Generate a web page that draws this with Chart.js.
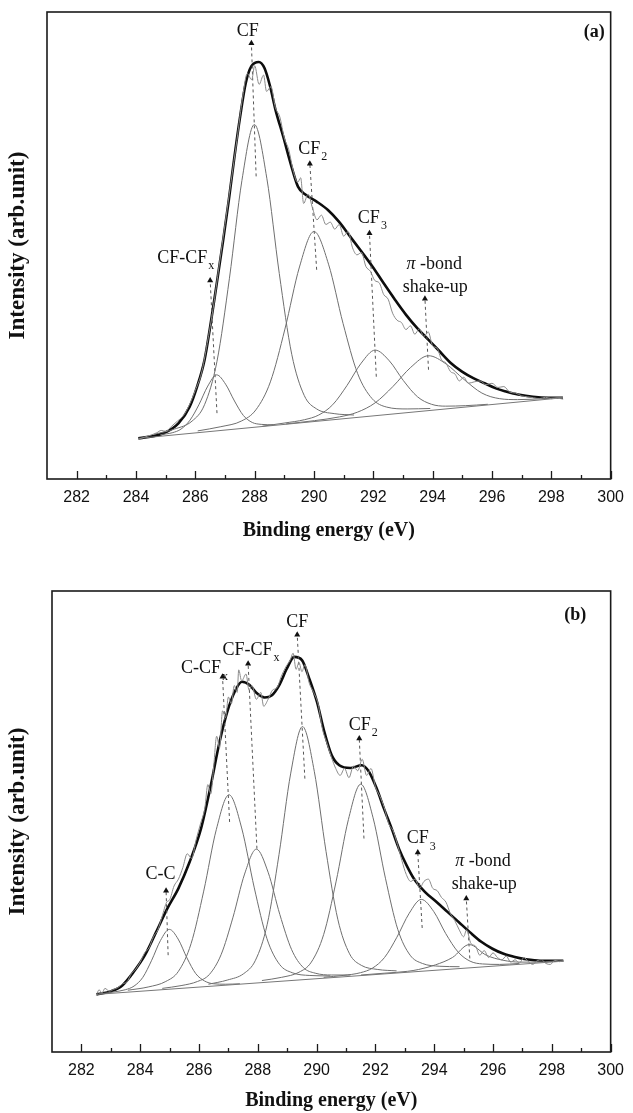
<!DOCTYPE html>
<html>
<head>
<meta charset="utf-8">
<script src="https://cdn.jsdelivr.net/npm/chart.js@4.4.1/dist/chart.umd.min.js"></script>
<style>
  body { margin: 0; background: #fff; }
  #wrap { position: relative; width: 633px; height: 1113px; }
  canvas { position: absolute; left: 0; }
</style>
</head>
<body>
<div id="wrap">
  <canvas id="panel-a" width="633" height="556" style="top:0"></canvas>
  <canvas id="panel-b" width="633" height="557" style="top:556px"></canvas>
</div>
<script>
// x axis ticks (eV)
const energyTicks = [282, 284, 286, 288, 290, 292, 294, 296, 298, 300];
const minorTicks = [283, 285, 287, 289, 291, 293, 295, 297, 299];

// ---- panel (a): [binding energy, intensity] ----
const rawA = [[284.08, 8.5], [284.3, 9.0], [284.5, 9.4], [284.7, 9.9], [284.85, 10.4], [285.0, 10.2], [285.2, 11.3],
  [285.4, 12.4], [285.6, 13.6], [285.8, 15.9], [286.0, 19.0], [286.2, 22.5], [286.4, 29.0], [286.6, 36.5],
  [286.8, 45.6], [287.0, 54.5], [287.2, 63.5], [287.4, 72.5], [287.6, 82.0], [287.75, 86.8], [287.9, 85.5],
  [288.0, 88.5], [288.15, 84.5], [288.3, 86.5], [288.4, 83.0], [288.55, 84.0], [288.7, 79.5], [288.85, 77.5],
  [289.0, 73.0], [289.15, 70.5], [289.3, 66.0], [289.45, 63.5], [289.55, 64.5], [289.65, 59.0], [289.8, 61.0],
  [289.95, 58.0], [290.1, 55.5], [290.25, 56.5], [290.4, 54.5], [290.55, 55.0], [290.7, 53.5], [290.85, 54.5],
  [291.0, 52.0], [291.15, 53.0], [291.3, 49.5], [291.45, 48.0], [291.6, 48.5], [291.75, 45.5], [291.9, 44.5],
  [292.05, 42.5], [292.2, 42.0], [292.35, 39.5], [292.5, 38.5], [292.65, 35.5], [292.8, 34.0], [292.95, 33.5],
  [293.1, 32.0], [293.25, 32.8], [293.4, 31.0], [293.55, 32.2], [293.7, 30.5], [293.85, 31.5], [294.0, 28.5],
  [294.15, 28.0], [294.3, 25.5], [294.45, 24.8], [294.6, 23.0], [294.75, 22.5], [294.9, 21.0], [295.05, 21.8],
  [295.2, 20.5], [295.4, 20.8], [295.6, 21.0], [295.8, 20.2], [296.0, 20.5], [296.2, 19.6], [296.4, 19.8],
  [296.6, 18.6], [296.8, 18.4], [297.0, 17.8], [297.2, 17.6], [297.4, 17.4], [297.6, 17.2], [297.8, 17.5],
  [298.0, 17.2], [298.2, 17.3], [298.4, 17.1]];
const envA = [[284.08, 8.7], [284.93, 9.8], [285.43, 11.9], [285.81, 15.5], [286.06, 19.8], [286.31, 25.5],
  [286.5, 32.6], [286.69, 40.5], [286.94, 51.2], [287.13, 59.8], [287.32, 69.1], [287.51, 77.6], [287.7, 84.8],
  [287.89, 88.4], [288.14, 89.3], [288.33, 88.0], [288.52, 84.1], [288.7, 79.1], [288.96, 73.4], [289.21, 67.6],
  [289.46, 62.6], [289.71, 60.9], [290.09, 59.4], [290.47, 57.6], [290.84, 55.1], [291.22, 51.9], [291.6, 48.7],
  [291.97, 45.5], [292.35, 41.9], [292.73, 38.4], [293.11, 35.1], [293.48, 32.3], [293.86, 29.8], [294.24, 27.3],
  [294.62, 24.8], [294.99, 23.0], [295.37, 21.6], [295.75, 20.5], [296.13, 19.4], [296.5, 18.7], [296.88, 18.1],
  [297.38, 17.6], [297.89, 17.4], [298.39, 17.4]];
const baseA = [[284.08, 8.7], [298.39, 17.4]];
const cfcfxA = [[284.82, 9.5], [285.22, 9.9], [285.52, 10.7], [285.82, 12.6], [286.12, 15.9], [286.42, 19.9],
  [286.72, 22.3], [287.02, 20.3], [287.32, 16.7], [287.62, 13.6], [287.92, 12.1], [288.22, 11.7], [288.62, 11.6]];
const cfA = [[284.63, 9.6], [285.3, 10.7], [285.89, 12.4], [286.31, 15.9], [286.73, 25.2], [287.15, 43.0],
  [287.57, 63.9], [287.99, 75.9], [288.41, 64.4], [288.83, 44.0], [289.25, 26.7], [289.67, 17.9], [290.09, 15.0],
  [290.68, 14.0], [291.35, 13.7]];
const cf2A = [[286.08, 10.3], [286.86, 11.2], [287.55, 12.4], [288.04, 14.8], [288.53, 20.8], [289.02, 32.1],
  [289.51, 45.4], [290.0, 53.0], [290.49, 46.0], [290.98, 33.3], [291.47, 22.6], [291.96, 17.2], [292.45, 15.4],
  [293.14, 15.0], [293.92, 15.1]];
const cf3A = [[288.26, 11.3], [289.02, 12.0], [289.68, 12.7], [290.16, 13.7], [290.63, 15.9], [291.11, 20.0],
  [291.59, 24.8], [292.06, 27.6], [292.54, 25.3], [293.01, 21.1], [293.49, 17.6], [293.96, 16.0], [294.44, 15.6],
  [295.1, 15.7], [295.86, 16.0]];
const piA = [[289.06, 11.8], [290.02, 12.5], [290.86, 13.3], [291.46, 14.3], [292.06, 16.3], [292.66, 19.8],
  [293.26, 23.9], [293.86, 26.4], [294.46, 24.6], [295.06, 21.3], [295.66, 18.4], [296.26, 17.2], [296.86, 17.0],
  [297.7, 17.2], [298.39, 17.5]];
const guidesA = [
  [[286.73, 14.1], [286.50, 42.5]],
  [[288.05, 64.8], [287.89, 93.3]],
  [[290.09, 44.8], [289.86, 67.5]],
  [[292.10, 21.9], [291.87, 52.6]],
  [[293.86, 23.4], [293.74, 38.6]]
];
const labelsA = [
  { text: "CF-CF", sub: "x", at: [285.56, 47.3] },
  { text: "CF", at: [287.77, 95.9] },
  { text: "CF", sub: "2", at: [289.84, 70.7] },
  { text: "CF", sub: "3", at: [291.85, 55.9] },
  { text: " -bond", greek: "\u03c0", at: [294.05, 45.9] },
  { text: "shake-up", at: [294.09, 41.1] },
  { text: "(a)", bold: true, at: [299.45, 95.7] }
];

// ---- panel (b) ----
const rawB = [[282.51, 12.3], [282.6, 13.5], [282.7, 12.8], [282.8, 13.8], [282.95, 13.2], [283.1, 13.6],
  [283.25, 14.0], [283.4, 14.8], [283.55, 15.2], [283.7, 17.0], [283.85, 18.0], [284.0, 19.5], [284.15, 21.5],
  [284.3, 22.6], [284.45, 25.0], [284.6, 26.5], [284.75, 29.5], [284.9, 32.5], [285.0, 33.0], [285.15, 36.0],
  [285.3, 37.5], [285.45, 40.0], [285.6, 43.0], [285.75, 42.0], [285.9, 46.0], [286.05, 49.5], [286.2, 53.0],
  [286.3, 58.0], [286.4, 56.0], [286.5, 62.0], [286.6, 68.5], [286.7, 66.0], [286.8, 74.0], [286.9, 72.5],
  [287.0, 77.0], [287.1, 75.5], [287.2, 79.5], [287.3, 78.0], [287.35, 82.9], [287.45, 80.5], [287.6, 82.0],
  [287.7, 78.5], [287.8, 79.5], [287.95, 76.5], [288.1, 78.0], [288.2, 75.0], [288.35, 76.5], [288.5, 78.5],
  [288.65, 79.0], [288.8, 81.5], [288.95, 83.5], [289.1, 85.0], [289.2, 86.5], [289.3, 83.0], [289.4, 84.5],
  [289.5, 82.5], [289.6, 84.0], [289.75, 80.0], [289.9, 78.0], [290.05, 75.5], [290.2, 70.0], [290.35, 67.0],
  [290.5, 64.0], [290.65, 61.5], [290.8, 60.0], [290.95, 61.5], [291.1, 59.5], [291.25, 62.0], [291.4, 61.0],
  [291.55, 63.5], [291.7, 60.0], [291.85, 61.5], [292.0, 57.5], [292.15, 55.5], [292.3, 53.0], [292.45, 49.5],
  [292.6, 48.0], [292.75, 45.0], [292.9, 41.5], [293.05, 38.5], [293.2, 37.0], [293.35, 37.5], [293.5, 35.5],
  [293.65, 37.0], [293.8, 37.5], [293.95, 35.5], [294.1, 35.0], [294.25, 33.5], [294.4, 32.5], [294.55, 30.0],
  [294.7, 28.5], [294.85, 26.5], [295.0, 25.0], [295.1, 26.5], [295.25, 23.5], [295.4, 23.0], [295.55, 21.0],
  [295.7, 22.0], [295.85, 20.5], [296.0, 21.5], [296.15, 20.5], [296.3, 20.0], [296.45, 20.8], [296.6, 19.5],
  [296.75, 20.0], [296.9, 19.3], [297.05, 20.5], [297.2, 19.6], [297.35, 19.0], [297.5, 19.8], [297.65, 20.0],
  [297.8, 19.2], [297.95, 19.0], [298.1, 19.9], [298.25, 19.6], [298.39, 19.7]];
const envB = [[282.51, 12.5], [283.02, 13.2], [283.4, 14.5], [283.78, 17.4], [284.16, 21.0], [284.54, 26.0],
  [284.92, 31.1], [285.3, 35.5], [285.68, 41.2], [286.07, 48.5], [286.38, 57.2], [286.7, 67.3], [286.96, 73.8],
  [287.21, 78.1], [287.46, 80.3], [287.72, 79.6], [287.97, 77.8], [288.23, 76.9], [288.48, 77.4], [288.73, 79.6],
  [288.99, 83.2], [289.24, 85.7], [289.5, 85.0], [289.75, 81.0], [290.01, 76.0], [290.26, 69.5], [290.51, 64.4],
  [290.77, 62.2], [291.15, 61.6], [291.53, 62.2], [291.78, 60.8], [292.04, 57.2], [292.29, 52.8], [292.55, 48.5],
  [292.8, 44.1], [293.06, 40.5], [293.31, 37.6], [293.69, 34.7], [294.07, 32.6], [294.45, 30.4], [294.83, 28.2],
  [295.21, 26.0], [295.6, 23.9], [295.98, 22.4], [296.36, 21.3], [296.74, 20.6], [297.12, 20.1], [297.63, 19.8],
  [298.39, 19.8]];
const baseB = [[282.51, 12.5], [298.39, 19.7]];
const ccB = [[282.59, 12.6], [283.07, 13.0], [283.49, 13.5], [283.79, 14.3], [284.09, 16.2], [284.39, 19.9],
  [284.69, 24.2], [284.99, 26.6], [285.29, 24.5], [285.59, 20.4], [285.89, 17.0], [286.19, 15.4], [286.49, 14.8],
  [286.91, 14.7], [287.39, 14.8]];
const ccfB = [[283.58, 13.4], [284.27, 14.1], [284.87, 15.3], [285.3, 17.5], [285.73, 23.5], [286.16, 34.9],
  [286.59, 48.3], [287.02, 55.8], [287.45, 48.6], [287.88, 35.6], [288.31, 24.6], [288.74, 19.0], [289.17, 17.2],
  [289.77, 16.6], [290.46, 16.5]];
const cfcfxB = [[284.75, 13.8], [285.39, 14.4], [285.95, 15.3], [286.35, 16.8], [286.75, 21.1], [287.15, 29.1],
  [287.55, 38.6], [287.95, 44.0], [288.35, 39.0], [288.75, 29.8], [289.15, 22.2], [289.55, 18.3], [289.95, 17.1],
  [290.51, 16.7], [291.15, 16.7]];
const cfB = [[286.32, 14.7], [286.96, 15.6], [287.52, 17.0], [287.92, 19.9], [288.32, 27.7], [288.72, 42.8],
  [289.12, 60.5], [289.52, 70.6], [289.92, 60.9], [290.32, 43.5], [290.72, 28.8], [291.12, 21.3], [291.52, 18.8],
  [292.08, 17.9], [292.72, 17.6]];
const cf2B = [[288.14, 15.5], [288.81, 16.2], [289.4, 17.3], [289.82, 19.5], [290.24, 25.5], [290.66, 36.9],
  [291.08, 50.4], [291.5, 58.1], [291.92, 50.8], [292.34, 37.7], [292.76, 26.6], [293.18, 21.0], [293.6, 19.2],
  [294.19, 18.6], [294.86, 18.5]];
const cf3B = [[290.24, 16.2], [290.9, 16.6], [291.49, 17.2], [291.9, 18.2], [292.31, 20.5], [292.73, 24.9],
  [293.15, 30.1], [293.56, 33.1], [293.98, 30.5], [294.39, 25.7], [294.81, 21.7], [295.22, 19.7], [295.64, 19.1],
  [296.22, 19.0], [296.88, 19.2]];
const piB = [[291.51, 16.7], [292.32, 17.1], [293.09, 17.5], [293.47, 17.9], [294.04, 18.9], [294.62, 20.5],
  [295.19, 23.3], [295.77, 21.0], [296.34, 19.9], [296.92, 19.5], [297.49, 19.5], [298.06, 19.7], [298.39, 19.8]];
const guidesB = [
  [[284.95, 21.0], [284.88, 35.0]],
  [[287.04, 49.9], [286.80, 81.4]],
  [[287.97, 44.1], [287.67, 84.2]],
  [[289.60, 59.3], [289.34, 90.5]],
  [[291.61, 46.3], [291.45, 68.0]],
  [[293.59, 26.9], [293.44, 43.3]],
  [[295.21, 20.3], [295.09, 33.3]]
];
const labelsB = [
  { text: "C-C", at: [284.69, 38.5] },
  { text: "C-CF", sub: "x", at: [286.07, 83.2] },
  { text: "CF-CF", sub: "x", at: [287.65, 87.2] },
  { text: "CF", at: [289.34, 93.3] },
  { text: "CF", sub: "2", at: [291.47, 70.9] },
  { text: "CF", sub: "3", at: [293.44, 46.3] },
  { text: " -bond", greek: "\u03c0", at: [295.66, 41.4] },
  { text: "shake-up", at: [295.70, 36.3] },
  { text: "(b)", bold: true, at: [298.8, 94.8] }
];

const toXY = pts => pts.map(p => ({ x: p[0], y: p[1] }));

function line(pts, color, width) {
  return {
    data: toXY(pts),
    borderColor: color,
    borderWidth: width,
    pointRadius: 0,
    fill: false,
    cubicInterpolationMode: "monotone"
  };
}

function guide(pts) {
  return {
    data: toXY(pts),
    borderColor: "#555",
    borderWidth: 1,
    borderDash: [3, 3],
    pointRadius: [0, 3.5],
    pointStyle: "triangle",
    pointBackgroundColor: "#111",
    pointBorderWidth: 0,
    fill: false
  };
}

// frame, inward ticks and peak labels
const decor = {
  id: "decor",
  afterDatasetsDraw(chart, args, opts) {
    const { ctx, chartArea: { left, right, top, bottom }, scales: { x, y } } = chart;
    ctx.save();
    ctx.strokeStyle = "#1a1a1a";
    ctx.lineWidth = 1.6;
    ctx.strokeRect(left, top, right - left, bottom - top);
    ctx.lineWidth = 1.3;
    ctx.beginPath();
    energyTicks.forEach(v => {
      const px = Math.round(x.getPixelForValue(v)) + 0.5;
      ctx.moveTo(px, bottom);
      ctx.lineTo(px, bottom - 8);
    });
    minorTicks.forEach(v => {
      const px = Math.round(x.getPixelForValue(v)) + 0.5;
      ctx.moveTo(px, bottom);
      ctx.lineTo(px, bottom - 4);
    });
    ctx.stroke();

    ctx.fillStyle = "#111";
    ctx.textBaseline = "middle";
    opts.items.forEach(l => {
      const cx = x.getPixelForValue(l.at[0]);
      const cy = y.getPixelForValue(l.at[1]);
      const mainFont = (l.bold ? "bold " : "") + "18px 'Liberation Serif'";
      ctx.font = mainFont;
      const w = ctx.measureText(l.text).width;
      let gw = 0;
      if (l.greek) {
        ctx.font = "italic 18px 'Liberation Serif'";
        gw = ctx.measureText(l.greek).width;
      }
      let sx = cx - (w + gw) / 2;
      ctx.textAlign = "left";
      if (l.greek) {
        ctx.font = "italic 18px 'Liberation Serif'";
        ctx.fillText(l.greek, sx, cy);
        sx += gw;
      }
      ctx.font = mainFont;
      ctx.fillText(l.text, sx, cy);
      if (l.sub) {
        ctx.font = "12px 'Liberation Serif'";
        ctx.fillText(l.sub, sx + w + 1, cy + 8);
      }
    });
    ctx.restore();
  }
};

function makePanel(id, series, guides, labels, box) {
  const datasets = [
    line(series.raw, "#8a8a8a", 1),
    line(series.base, "#777", 1),
    ...series.comps.map(c => line(c, "#6f6f6f", 1)),
    ...guides.map(guide),
    line(series.env, "#0d0d0d", 2.6)
  ];
  return new Chart(document.getElementById(id), {
    type: "line",
    data: { datasets },
    plugins: [decor],
    options: {
      responsive: false,
      animation: false,
      layout: { padding: { top: box.top, right: box.right, left: 0, bottom: 0 } },
      plugins: { legend: { display: false }, tooltip: { enabled: false }, decor: { items: labels } },
      scales: {
        x: {
          type: "linear",
          min: 281,
          max: 300,
          afterBuildTicks: s => { s.ticks = energyTicks.map(v => ({ value: v })); },
          afterFit: s => { s.height = box.xh; },
          grid: { display: false, drawTicks: false },
          border: { display: false },
          ticks: { font: { family: "'Liberation Sans'", size: 16 }, color: "#111", padding: box.tp, maxRotation: 0, autoSkip: false },
          title: {
            display: true,
            text: "Binding energy (eV)",
            color: "#111",
            font: { family: "'Liberation Serif'", size: 20, weight: "bold" },
            padding: { top: 0, bottom: box.tb }
          }
        },
        y: {
          min: 0,
          max: 100,
          afterFit: s => { s.width = box.left; },
          grid: { display: false },
          border: { display: false },
          ticks: { display: false },
          title: {
            display: true,
            text: "Intensity (arb.unit)",
            color: "#111",
            font: { family: "'Liberation Serif'", size: 23, weight: "bold" },
            padding: { top: 4, bottom: 0 }
          }
        }
      }
    }
  });
}

makePanel("panel-a",
  { raw: rawA, env: envA, base: baseA, comps: [cfcfxA, cfA, cf2A, cf3A, piA] },
  guidesA, labelsA,
  { top: 12, right: 15, left: 47, xh: 77, tp: 9, tb: 13 });

makePanel("panel-b",
  { raw: rawB, env: envB, base: baseB, comps: [ccB, ccfB, cfcfxB, cfB, cf2B, cf3B, piB] },
  guidesB, labelsB,
  { top: 35, right: 16, left: 52, xh: 61, tp: 9, tb: 0 });
</script>
</body>
</html>
